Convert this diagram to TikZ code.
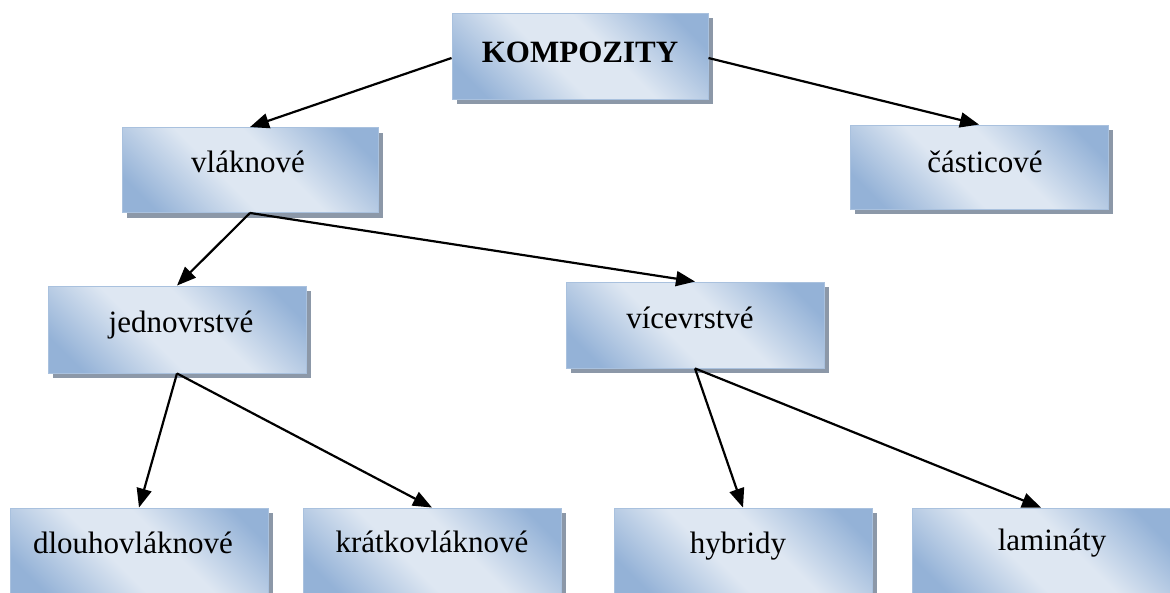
\documentclass[tikz,border=0pt]{standalone}
\usepackage{fontspec}
\setmainfont{Liberation Serif}
\usetikzlibrary{arrows.meta,shadows}
\definecolor{boxdark}{HTML}{94B2D7}
\definecolor{boxlight}{HTML}{DEE7F2}
\definecolor{boxline}{HTML}{A9C1DE}
\definecolor{shadowc}{HTML}{8C98A8}
\pgfdeclareverticalshading{boxshade}{100bp}{color(0bp)=(boxdark); color(22bp)=(boxdark); color(43bp)=(boxlight); color(57bp)=(boxlight); color(78bp)=(boxdark); color(100bp)=(boxdark)}
\tikzset{
  box/.style={rectangle, minimum width=258pt, minimum height=86pt, inner sep=0pt,
    draw=boxline, line width=0.9pt,
    shading=boxshade, shading angle=-45,
    drop shadow={shadow xshift=5pt, shadow yshift=-5pt, fill=shadowc, opacity=1}},
  lbl/.style={anchor=base, inner sep=0pt, font=\fontsize{31}{37}\selectfont},
  conn/.style={line width=2.2pt, -{Triangle[length=19pt,width=15pt]}}
}
\begin{document}
\begin{tikzpicture}[x=1pt,y=-1pt]
\useasboundingbox (0,0) rectangle (1170,592);
\clip (0,0) rectangle (1170,592);
\fill[white] (0,0) rectangle (1170,592);
% boxes
\node[box, minimum width=256pt] (komp) at (580,56) {};
\node[box, minimum width=256pt, minimum height=85pt] (vlak) at (250,170) {};
\node[box, minimum height=84pt] (cast) at (979,167) {};
\node[box, minimum height=87pt] (jedn) at (177,329.5) {};
\node[box] (vice) at (695,325) {};
\node[box] (dlou) at (139,551) {};
\node[box] (krat) at (432,551) {};
\node[box] (hybr) at (743,551) {};
\node[box] (lami) at (1041,551) {};
% labels
\node[lbl, font=\fontsize{31}{37}\selectfont\bfseries] (tkomp) at ([yshift=-6pt]komp.center) {KOMPOZITY};
\node[lbl] (tvlak) at ([xshift=-2pt,yshift=-2pt]vlak.center) {vláknové};
\node[lbl] (tcast) at ([xshift=6pt,yshift=-5pt]cast.center) {částicové};
\node[lbl] (tjedn) at ([xshift=4pt,yshift=-3pt]jedn.center) {jednovrstvé};
\node[lbl] (tvice) at ([xshift=-5pt,yshift=-3pt]vice.center) {vícevrstvé};
\node[lbl] (tdlou) at ([xshift=-6pt,yshift=-2pt]dlou.center) {dlouhovláknové};
\node[lbl] (tkrat) at ([yshift=-1pt]krat.center) {krátkovláknové};
\node[lbl] (thybr) at ([xshift=-5pt,yshift=-2pt]hybr.center) {hybridy};
\node[lbl] (tlami) at ([xshift=11pt,yshift=1pt]lami.center) {lamináty};
% connectors
\draw[conn] ([yshift=-2pt]komp.west) -- (vlak.north);
\draw[conn] ([yshift=-2pt]komp.east) -- (cast.north);
\draw[conn] (vlak.south) -- (jedn.north);
\draw[conn] (vlak.south) -- (vice.north);
\draw[conn] (jedn.south) -- (dlou.north);
\draw[conn] (jedn.south) -- (krat.north);
\draw[conn] (vice.south) -- (hybr.north);
\draw[conn] (vice.south) -- (lami.north);
\end{tikzpicture}
\end{document}
